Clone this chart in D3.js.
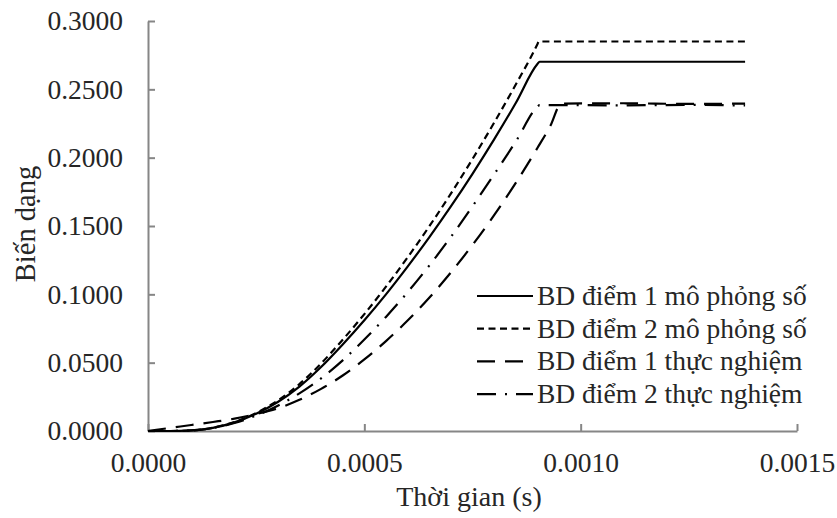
<!DOCTYPE html>
<html>
<head>
<meta charset="utf-8">
<script src="https://cdn.jsdelivr.net/npm/d3@7"></script>
<style>
  html, body { margin: 0; padding: 0; background: #fff; }
  svg text { font-family: "Liberation Serif", "Times New Roman", serif; fill: #262626; }
</style>
</head>
<body>
<svg id="chart" width="837" height="518"></svg>
<script>
// Time samples (s) and strain values for each series
const timeSim1 = [0, 0.00005, 0.0001, 0.00015, 0.0002, 0.00025, 0.0003, 0.00035, 0.0004, 0.00045, 0.0005, 0.00055, 0.0006, 0.00065, 0.0007, 0.00075, 0.0008, 0.00085, 0.0009, 0.000905, 0.00138];
const strainSim1 = [0, 0, 0.0004, 0.0023, 0.0063, 0.0126, 0.0212, 0.0325, 0.0468, 0.0633, 0.0810, 0.1000, 0.1203, 0.1417, 0.1643, 0.1882, 0.2134, 0.2400, 0.2685, 0.2702, 0.2702];

const timeSim2 = [0, 0.00005, 0.0001, 0.00015, 0.0002, 0.00025, 0.0003, 0.00035, 0.0004, 0.00045, 0.0005, 0.00055, 0.0006, 0.00065, 0.0007, 0.00075, 0.0008, 0.00085, 0.0009, 0.000903, 0.00138];
const strainSim2 = [0, 0, 0.0004, 0.0024, 0.0066, 0.0132, 0.0223, 0.0343, 0.0494, 0.0668, 0.0855, 0.1056, 0.1270, 0.1497, 0.1737, 0.1990, 0.2256, 0.2535, 0.2830, 0.2850, 0.2850];

const timeExp1 = [0, 0.00005, 0.0001, 0.00015, 0.0002, 0.00025, 0.0003, 0.00035, 0.0004, 0.00045, 0.0005, 0.00055, 0.0006, 0.00065, 0.0007, 0.00075, 0.0008, 0.00085, 0.0009, 0.00093, 0.000955, 0.0011, 0.00125, 0.00138];
const strainExp1 = [0, 0.0022, 0.0044, 0.0066, 0.0090, 0.0124, 0.0166, 0.0228, 0.0308, 0.0406, 0.0524, 0.0658, 0.0808, 0.0975, 0.1160, 0.1361, 0.1579, 0.1815, 0.2071, 0.2233, 0.2395, 0.2398, 0.2393, 0.2396];

const timeExp2 = [0, 0.00005, 0.0001, 0.00015, 0.0002, 0.00025, 0.0003, 0.00035, 0.0004, 0.00045, 0.0005, 0.00055, 0.0006, 0.00065, 0.0007, 0.00075, 0.0008, 0.00085, 0.0009, 0.000905, 0.0011, 0.00125, 0.00138];
const strainExp2 = [0, 0, 0.0004, 0.0022, 0.0059, 0.0113, 0.0185, 0.0275, 0.0385, 0.0517, 0.0669, 0.0835, 0.1015, 0.1210, 0.1420, 0.1644, 0.1878, 0.2118, 0.2372, 0.2385, 0.2383, 0.2386, 0.2382];

const seriesNames = ["BD điểm 1 mô phỏng số", "BD điểm 2 mô phỏng số", "BD điểm 1 thực nghiệm", "BD điểm 2 thực nghiệm"];
const xTicks = [0, 0.0005, 0.0010, 0.0015];
const yTicks = [0, 0.05, 0.10, 0.15, 0.20, 0.25, 0.30];
const xTitle = "Thời gian (s)";
const yTitle = "Biến dạng";

const series = [
  { name: seriesNames[0], t: timeSim1, v: strainSim1, dash: null },
  { name: seriesNames[1], t: timeSim2, v: strainSim2, dash: "7,4.5" },
  { name: seriesNames[2], t: timeExp1, v: strainExp1, dash: "18,10" },
  { name: seriesNames[3], t: timeExp2, v: strainExp2, dash: "19,9,2,9" }
];

const svg = d3.select("#chart");
const plot = { left: 148, right: 797, top: 21, bottom: 431 };

const x = d3.scaleLinear().domain([0, 0.0015]).range([plot.left, plot.right]);
const y = d3.scaleLinear().domain([0, 0.3]).range([plot.bottom, plot.top]);

const axisColor = "#868686";

// X axis: ticks point up into the plot
const xAxis = svg.append("g")
  .attr("transform", `translate(0,${plot.bottom})`)
  .call(d3.axisBottom(x).tickValues(xTicks).tickSizeInner(-7).tickSizeOuter(0).tickPadding(21)
    .tickFormat(d3.format(".4f")));
xAxis.select(".domain").attr("stroke", axisColor).attr("stroke-width", 2);
xAxis.selectAll(".tick line").attr("stroke", axisColor).attr("stroke-width", 2);
xAxis.selectAll(".tick text").attr("font-size", 27.5).attr("dy", "0.71em");

// Y axis: ticks point right into the plot
const yAxis = svg.append("g")
  .attr("transform", `translate(${plot.left},0)`)
  .call(d3.axisLeft(y).tickValues(yTicks).tickSizeInner(-7).tickSizeOuter(0).tickPadding(25)
    .tickFormat(d3.format(".4f")));
yAxis.select(".domain").attr("stroke", axisColor).attr("stroke-width", 2);
yAxis.selectAll(".tick line").attr("stroke", axisColor).attr("stroke-width", 2);
yAxis.selectAll(".tick text").attr("font-size", 27.5);
svg.selectAll(".tick text").attr("font-family", "Liberation Serif").attr("fill", "#262626");

// Series lines
const line = d3.line()
  .x(d => x(d[0]))
  .y(d => y(d[1]))
  .curve(d3.curveMonotoneX);

series.forEach(s => {
  const pts = s.t.map((t, i) => [t, s.v[i]]);
  svg.append("path")
    .datum(pts)
    .attr("fill", "none")
    .attr("stroke", "#000")
    .attr("stroke-width", 2.2)
    .attr("stroke-dasharray", s.dash)
    .attr("d", line);
});

// Axis titles
svg.append("text")
  .attr("x", 469)
  .attr("y", 506)
  .attr("text-anchor", "middle")
  .attr("font-size", 28)
  .text(xTitle);

svg.append("text")
  .attr("transform", `translate(35,${(plot.top + plot.bottom) / 2 - 2}) rotate(-90)`)
  .attr("text-anchor", "middle")
  .attr("font-size", 28.5)
  .text(yTitle);

// Legend
const legend = svg.append("g").attr("transform", "translate(477,296)");
series.forEach((s, i) => {
  const row = legend.append("g").attr("transform", `translate(0,${i * 32.7})`);
  row.append("line")
    .attr("x1", 0).attr("x2", 56).attr("y1", 0).attr("y2", 0)
    .attr("stroke", "#000").attr("stroke-width", 2.2)
    .attr("stroke-dasharray", s.dash);
  row.append("text")
    .attr("x", 60).attr("y", 0).attr("dy", "0.33em")
    .attr("font-size", 27.5)
    .text(s.name);
});
</script>
</body>
</html>
